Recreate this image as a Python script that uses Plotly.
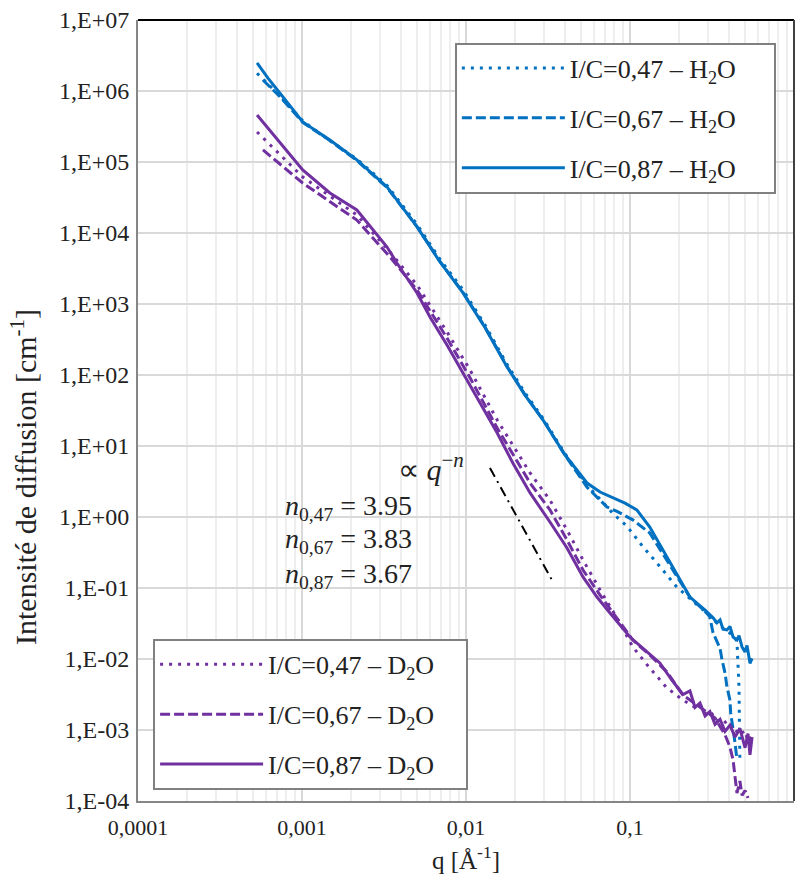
import plotly.graph_objects as go

# ---------------- data ----------------
q_h2o_047 = [5.32e-4, 6.20e-4, 7.34e-4, 1.01e-3, 1.48e-3, 2.16e-3, 3.30e-3, 5.03e-3, 6.94e-3, 9.59e-3,
             0.0131, 0.0178, 0.0229, 0.0295, 0.0402, 0.0547, 0.0657, 0.0788, 0.0959, 0.120, 0.146,
             0.193, 0.232, 0.287, 0.321, 0.339, 0.369, 0.390, 0.425, 0.449, 0.462, 0.468]
I_h2o_047 = [1.78e6, 1.26e6, 8.5e5, 3.8e5, 2.0e5, 1.10e5, 4.68e4, 1.32e4, 4.27e3, 1.58e3,
             501, 141, 56.2, 24.5, 7.76, 2.82, 1.78, 1.12, 0.741, 0.380, 0.225,
             0.103, 0.0708, 0.0468, 0.0372, 0.0316, 0.0275, 0.0251, 0.0214, 0.0178, 0.0040, 3.47e-4]

q_h2o_067 = [5.78e-4, 7.34e-4, 1.01e-3, 1.48e-3, 2.16e-3, 3.30e-3, 5.03e-3, 6.94e-3, 9.59e-3, 0.0131,
             0.0178, 0.0229, 0.0295, 0.0402, 0.0547, 0.0657, 0.0724, 0.0833, 0.104, 0.132, 0.168,
             0.232, 0.287, 0.306, 0.321, 0.354, 0.364, 0.380, 0.390, 0.407, 0.411, 0.425, 0.437, 0.449]
I_h2o_067 = [1.43e6, 8.3e5, 3.63e5, 2.0e5, 1.05e5, 4.37e4, 1.23e4, 3.98e3, 1.45e3, 468,
             132, 52.5, 23.4, 7.41, 2.63, 1.74, 1.38, 1.20, 0.912, 0.596, 0.245,
             0.0741, 0.0468, 0.0398, 0.0234, 0.0141, 0.00977, 0.00631, 0.00407, 0.00263, 0.00174, 0.0011, 6.6e-4, 3.8e-4]

q_h2o_087 = [5.32e-4, 6.20e-4, 7.34e-4, 1.01e-3, 1.48e-3, 2.16e-3, 3.30e-3, 5.03e-3, 6.94e-3, 9.59e-3,
             0.0131, 0.0178, 0.0229, 0.0295, 0.0402, 0.0547, 0.0657, 0.0788, 0.0932, 0.110, 0.132,
             0.168, 0.232, 0.287, 0.321, 0.339, 0.354, 0.369, 0.390, 0.407, 0.425, 0.449, 0.462,
             0.482, 0.503, 0.517, 0.539, 0.555]
I_h2o_087 = [2.48e6, 1.52e6, 9.33e5, 3.66e5, 2.04e5, 1.07e5, 4.45e4, 1.22e4, 3.91e3, 1.43e3,
             459, 130, 52.2, 23.2, 7.46, 3.01, 2.25, 1.85, 1.57, 1.26, 0.723,
             0.274, 0.0746, 0.049, 0.038, 0.0324, 0.0355, 0.0263, 0.0257, 0.0288, 0.0204, 0.0186, 0.0214,
             0.0148, 0.0126, 0.0155, 0.0087, 0.0102]

q_d2o_047 = [5.32e-4, 7.34e-4, 1.01e-3, 2.16e-3, 3.44e-3, 5.03e-3, 7.66e-3, 0.0106, 0.0155, 0.0246,
             0.0325, 0.0413, 0.0517, 0.0657, 0.0833, 0.104, 0.132, 0.168, 0.210, 0.249, 0.267,
             0.287, 0.307, 0.339, 0.369, 0.407, 0.425, 0.462, 0.503, 0.524, 0.555]
I_d2o_047 = [2.65e5, 1.28e5, 6.15e4, 1.79e4, 5.40e3, 1.85e3, 404, 117, 23.2, 4.17,
             1.73, 0.656, 0.248, 0.0938, 0.0378, 0.0148, 0.00746, 0.00391, 0.00265, 0.00209, 0.00229,
             0.00170, 0.00186, 0.00135, 0.00141, 0.00107, 0.00115, 8.5e-4, 9.8e-4, 6.9e-4, 8.3e-4]

q_d2o_067 = [5.78e-4, 7.34e-4, 1.01e-3, 2.16e-3, 3.44e-3, 5.03e-3, 7.66e-3, 0.0106, 0.0155, 0.0246,
             0.0325, 0.0413, 0.0517, 0.0657, 0.0833, 0.104, 0.132, 0.168, 0.210, 0.267, 0.330,
             0.354, 0.380, 0.407, 0.425, 0.437, 0.449, 0.468, 0.482, 0.503, 0.524]
I_d2o_067 = [1.48e5, 9.38e4, 5.06e4, 1.52e4, 4.59e3, 1.57e3, 332, 90.8, 17.9, 3.01,
             1.26, 0.474, 0.179, 0.0796, 0.0378, 0.0185, 0.0114, 0.00656, 0.00311, 0.00211, 0.00148,
             0.00112, 8.51e-4, 5.75e-4, 3.80e-4, 2.19e-4, 1.29e-4, 1.91e-4, 1.20e-4, 1.41e-4, 1.10e-4]

q_d2o_087 = [5.32e-4, 7.34e-4, 1.01e-3, 1.48e-3, 2.16e-3, 3.30e-3, 3.79e-3, 5.03e-3, 6.03e-3, 7.66e-3,
             9.59e-3, 0.0122, 0.0155, 0.0193, 0.0246, 0.0325, 0.0413, 0.0517, 0.0629, 0.0755, 0.100,
             0.123, 0.152, 0.180, 0.210, 0.232, 0.249, 0.267, 0.287, 0.307, 0.330, 0.354, 0.380,
             0.407, 0.437, 0.468, 0.503, 0.524, 0.539, 0.555]
I_d2o_087 = [4.59e5, 1.88e5, 7.71e4, 3.66e4, 2.11e4, 6.35e3, 3.78e3, 1.43e3, 656, 265,
             107, 40.4, 15.2, 5.77, 2.18, 0.851, 0.366, 0.143, 0.0746, 0.0445, 0.0204,
             0.0134, 0.00879, 0.00506, 0.00316, 0.00355, 0.00209, 0.00240, 0.00158, 0.00182, 0.00120, 0.00141, 9.55e-4,
             1.17e-3, 7.94e-4, 1.05e-3, 5.62e-4, 8.91e-4, 4.47e-4, 7.94e-4]

q_guide = [0.0140, 0.0339]
I_guide = [4.9, 0.122]

names_h2o = ["I/C=0,47 – H<sub>2</sub>O", "I/C=0,67 – H<sub>2</sub>O", "I/C=0,87 – H<sub>2</sub>O"]
names_d2o = ["I/C=0,47 – D<sub>2</sub>O", "I/C=0,67 – D<sub>2</sub>O", "I/C=0,87 – D<sub>2</sub>O"]
exponents = ["0,47", "0,67", "0,87"]
n_values = ["3.95", "3.83", "3.67"]

x_tickvals = [1e-4, 1e-3, 1e-2, 1e-1, 1]
x_ticktext = ["0,0001", "0,001", "0,01", "0,1", "1"]
y_tickvals = [1e7, 1e6, 1e5, 1e4, 1e3, 1e2, 1e1, 1e0, 1e-1, 1e-2, 1e-3, 1e-4]
y_ticktext = ["1,E+07", "1,E+06", "1,E+05", "1,E+04", "1,E+03", "1,E+02", "1,E+01",
              "1,E+00", "1,E-01", "1,E-02", "1,E-03", "1,E-04"]

# ---------------- styling ----------------
FONT = "Liberation Serif"
TXT = "#222222"
BLUE = "#0070C0"
PURPLE = "#7030A0"
DOT = "3px,6px"
DASH = "10px,4px"

fig = go.Figure()

h2o = [(q_h2o_047, I_h2o_047, DOT), (q_h2o_067, I_h2o_067, DASH), (q_h2o_087, I_h2o_087, "solid")]
d2o = [(q_d2o_047, I_d2o_047, DOT), (q_d2o_067, I_d2o_067, DASH), (q_d2o_087, I_d2o_087, "solid")]

for i, (q, I, dash) in enumerate(h2o):
    fig.add_trace(go.Scatter(x=q, y=I, mode="lines", name=names_h2o[i] + "\u00a0" * 5,
                             line=dict(color=BLUE, width=3, dash=dash),
                             legend="legend", legendgroup="h%d" % i))
for i, (q, I, dash) in enumerate(d2o):
    fig.add_trace(go.Scatter(x=q, y=I, mode="lines", name=names_d2o[i] + "\u00a0" * 4,
                             line=dict(color=PURPLE, width=3, dash=dash),
                             legend="legend2", legendgroup="d%d" % i))

fig.add_trace(go.Scatter(x=q_guide, y=I_guide, mode="lines", showlegend=False,
                         line=dict(color="black", width=2, dash="10px,5px,2px,5px")))

legend_common = dict(bgcolor="white", bordercolor="#808080", borderwidth=2,
                     font=dict(family=FONT, size=26, color=TXT),
                     itemwidth=103, tracegroupgap=13, xanchor="left", yanchor="top")

fig.update_layout(
    width=796, height=874,
    margin=dict(l=138, r=2, t=20, b=73),
    paper_bgcolor="white", plot_bgcolor="white",
    font=dict(family=FONT, color=TXT),
    legend=dict(x=0.483, y=0.971, **legend_common),
    legend2=dict(x=0.023, y=0.2075, **legend_common),
    xaxis=dict(type="log", range=[-4, 0], tickvals=x_tickvals, ticktext=x_ticktext,
               showgrid=True, gridcolor="#d9d9d9", gridwidth=2,
               minor=dict(showgrid=True, gridcolor="#eeeeee", gridwidth=1.5, dtick="D1"),
               showline=True, linecolor="#868686", linewidth=2, ticks="",
               tickfont=dict(family=FONT, size=22, color=TXT), ticklabelstandoff=6,
               title=dict(text="q [Å<sup>-1</sup>]", font=dict(family=FONT, size=25, color=TXT),
                          standoff=13),
               zeroline=False, automargin=False),
    yaxis=dict(type="log", range=[-4, 7], tickvals=y_tickvals, ticktext=y_ticktext,
               showgrid=True, gridcolor="#d9d9d9", gridwidth=2,
               showline=True, linecolor="#868686", linewidth=2, ticks="",
               tickfont=dict(family=FONT, size=24, color=TXT), ticklabelstandoff=2,
               zeroline=False, automargin=False),
    showlegend=True,
)

# plot-area frame (top and right edges)
fig.add_shape(type="line", xref="paper", yref="paper", x0=0, x1=1, y0=1, y1=1,
              line=dict(color="black", width=2))
fig.add_shape(type="line", xref="paper", yref="paper", x0=1, x1=1, y0=0, y1=1,
              line=dict(color="#404040", width=2))

# y axis title as rotated annotation
fig.add_annotation(text="Intensité de diffusion [cm<sup>-1</sup>]", xref="paper", yref="paper",
                   x=-0.174, y=0.4147, textangle=-90, showarrow=False,
                   font=dict(family=FONT, size=30, color=TXT), xanchor="center", yanchor="middle")

# power-law annotations
fig.add_annotation(text="∝ <i>q</i><sup>−<i>n</i></sup>", xref="paper", yref="paper",
                   x=0.394, y=0.428, showarrow=False, xanchor="left", yanchor="middle",
                   font=dict(family=FONT, size=30, color=TXT))
for k, (e, v) in enumerate(zip(exponents, n_values)):
    fig.add_annotation(text="<i>n</i><sub>%s</sub> = %s" % (e, v), xref="paper", yref="paper",
                       x=0.221, y=[0.376, 0.334, 0.289][k], showarrow=False,
                       xanchor="left", yanchor="middle",
                       font=dict(family=FONT, size=28, color=TXT))

fig.write_html("out.html", config={"displayModeBar": False},
               post_script="document.body.style.margin='0px';")
